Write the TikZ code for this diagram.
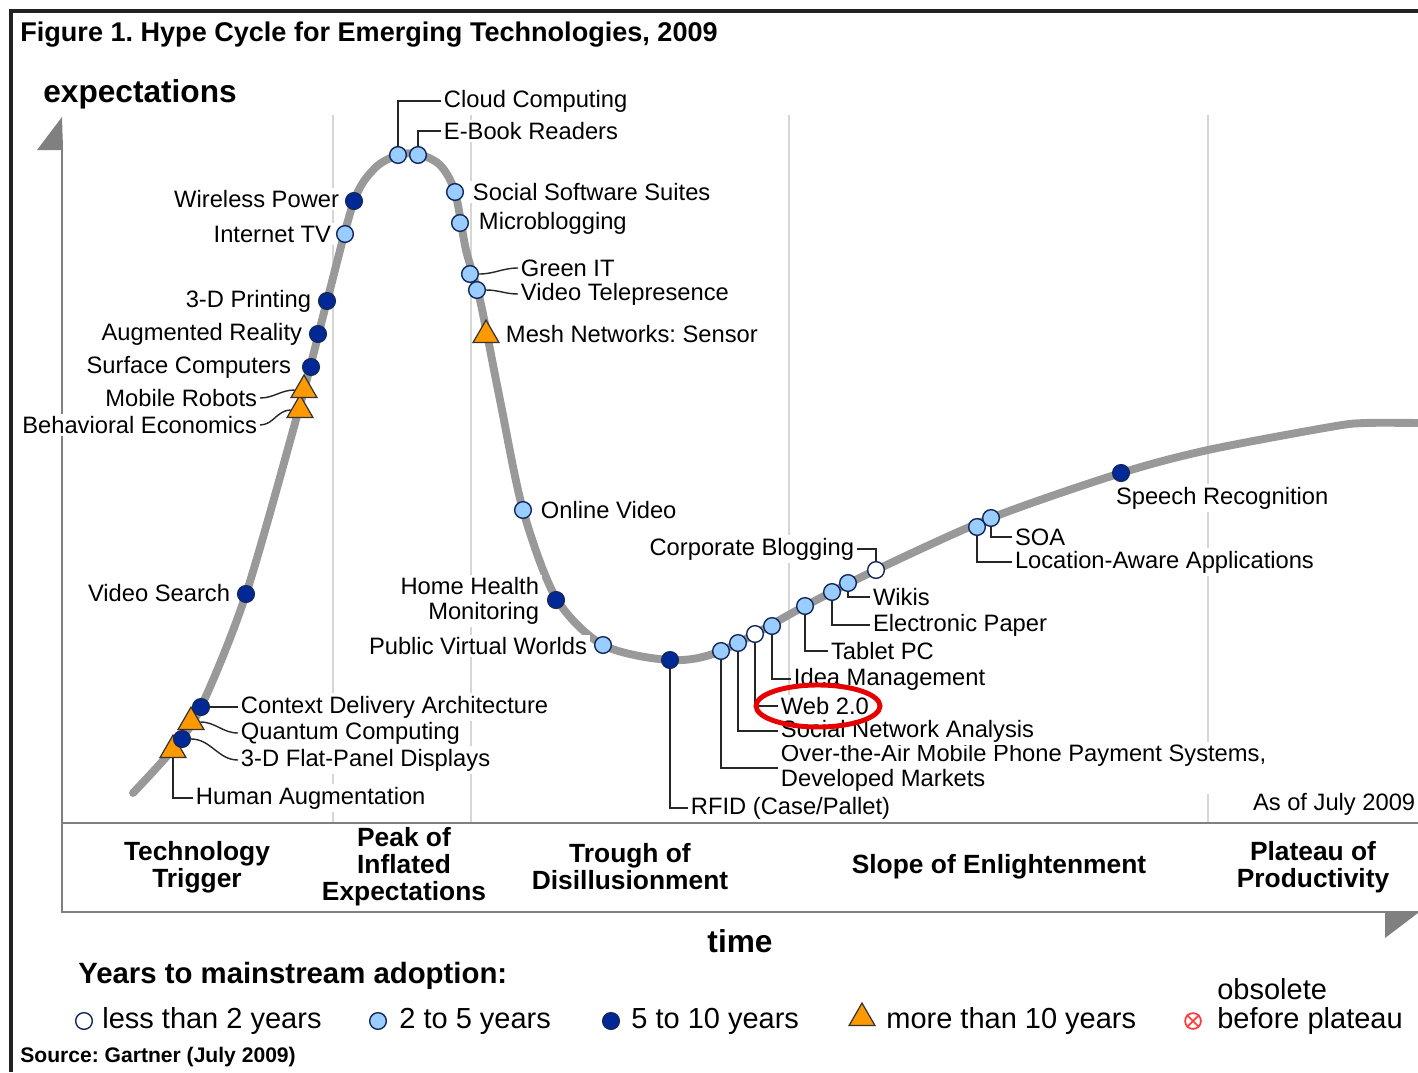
\documentclass[tikz,border=0pt]{standalone}
\usepackage{fontspec}
\setmainfont{Liberation Sans}
\usepackage{tikz}
\usetikzlibrary{shapes.geometric}
\frenchspacing
\definecolor{curvegray}{RGB}{153,153,153}
\definecolor{gridgray}{RGB}{214,214,214}
\definecolor{axisgray}{RGB}{128,128,128}
\definecolor{lightblue}{RGB}{153,204,255}
\definecolor{darkblue}{RGB}{0,40,150}
\definecolor{markline}{RGB}{20,40,90}
\definecolor{hypeorange}{RGB}{255,153,0}
\definecolor{ringred}{RGB}{230,0,0}
\definecolor{obsred}{RGB}{255,60,60}
\definecolor{framegray}{RGB}{34,34,34}
\tikzstyle{soon} = [circle, draw=markline, fill=white, line width=0.8pt,%
    minimum size=9.5pt, inner sep=0pt]
\tikzstyle{twofive} = [soon, fill=lightblue]
\tikzstyle{fiveten} = [soon, fill=darkblue]
\tikzstyle{overten} = [regular polygon, regular polygon sides=3, draw=black!80,
    fill=hypeorange, line width=0.7pt, minimum size=17pt, inner sep=0pt]
\tikzstyle{lbl} = [font=\fontsize{13.5}{14}\selectfont, inner sep=1.5pt, fill=white]
\tikzstyle{phase} = [font=\bfseries\fontsize{15}{15.3}\selectfont, align=center]
\tikzstyle{legendtxt} = [font=\fontsize{16.5}{16.5}\selectfont, anchor=west, inner sep=0pt]
\tikzstyle{leader} = [draw=black!85, line width=0.8pt]

\begin{document}
\begin{tikzpicture}[x=0.2mm, y=-0.2mm]
    \useasboundingbox (0,0) rectangle (1418,1072);
    % frame, title, axes
    \draw [framegray, line width=2.8pt] (11,1072) -- (11,11) -- (1418,11);
    \node (title) [anchor=west, inner sep=0pt, font=\bfseries\fontsize{15.4}{16}\selectfont]
        at (20,35) {Figure 1. Hype Cycle for Emerging Technologies, 2009};
    \node (ylab) [anchor=west, inner sep=0pt, font=\bfseries\fontsize{18}{18}\selectfont]
        at (43,94) {expectations};
    \foreach \gx in {333,471,789,1208}
        \draw [gridgray, line width=1.6pt] (\gx,115) -- (\gx,823);
    \draw [axisgray, line width=1.2pt] (62,140) -- (62,912) -- (1418,912);
    \draw [axisgray, line width=1.2pt] (62,823) -- (1418,823);
    \fill [axisgray] (37,150) -- (62,117) -- (63,150) -- cycle;
    \fill [axisgray] (1385,913) -- (1418,913) -- (1385,938) -- cycle;

    % the hype curve
    \draw [curvegray, line width=4.5pt, line cap=round] plot [smooth, tension=0.5] coordinates {
        (133,793) (173,749) (201,707) (246,594) (300,405) (327,301) (354,201)
        (375,168) (398,155) (418,154) (440,165) (455,192) (466,250) (480,300)
        (500,400) (523,510) (556,598) (603,645) (670,660) (721,651) (805,606)
        (876,570) (991,518) (1121,473) (1208,450) (1330,427) (1365,423) (1418,423)};

    % technologies
    \node (humaug) [overten] at (173,750) {};
    \node (flatpanel) [fiveten] at (182,739) {};
    \node (quantum) [overten] at (191,722) {};
    \node (context) [fiveten] at (201,707) {};
    \node (vidsearch) [fiveten] at (246,594) {};
    \node (behav) [overten] at (300,410) {};
    \node (robots) [overten] at (304,390) {};
    \node (surface) [fiveten] at (311,367) {};
    \node (augreal) [fiveten] at (318,334) {};
    \node (print3d) [fiveten] at (327,301) {};
    \node (inettv) [twofive] at (345,234) {};
    \node (wireless) [fiveten] at (354,201) {};
    \node (cloud) [twofive] at (398,155) {};
    \node (ebook) [twofive] at (418,155) {};
    \node (social) [twofive] at (455,192) {};
    \node (micro) [twofive] at (460,223) {};
    \node (greenit) [twofive] at (470,274) {};
    \node (telepres) [twofive] at (477,290) {};
    \node (mesh) [overten] at (486,335) {};
    \node (onlinevid) [twofive] at (523,510) {};
    \node (homehealth) [fiveten] at (556,600) {};
    \node (pubworlds) [twofive] at (603,645) {};
    \node (rfid) [fiveten] at (670,660) {};
    \node (ota) [twofive] at (721,651) {};
    \node (sna) [twofive] at (738,643) {};
    \node (web) [soon] at (755,634) {};
    \node (idea) [twofive] at (772,626) {};
    \node (tablet) [twofive] at (805,606) {};
    \node (epaper) [twofive] at (832,592) {};
    \node (wikis) [twofive] at (848,583) {};
    \node (blogging) [soon] at (876,570) {};
    \node (locaware) [twofive] at (977,527) {};
    \node (soa) [twofive] at (991,518) {};
    \node (speech) [fiveten] at (1121,473) {};

    % labels
    \node (cloudlbl) [lbl, anchor=west] at (441,101) {Cloud Computing};
    \node (ebooklbl) [lbl, anchor=west] at (441,131) {E-Book Readers};
    \node (sociallbl) [lbl, anchor=west] at (470,192) {Social Software Suites};
    \node (microlbl) [lbl, anchor=west] at (476,223) {Microblogging};
    \node (greenitlbl) [lbl, anchor=west] at (518,268) {Green IT};
    \node (telepreslbl) [lbl, anchor=west] at (518,294) {Video Telepresence};
    \node (meshlbl) [lbl, anchor=west] at (503,334) {Mesh Networks: Sensor};
    \node (wirelesslbl) [lbl, anchor=east] at (342,199) {Wireless Power};
    \node (inettvlbl) [lbl, anchor=east] at (334,234) {Internet TV};
    \node (print3dlbl) [lbl, anchor=east] at (314,301) {3-D Printing};
    \node (augreallbl) [lbl, anchor=east] at (305,334) {Augmented Reality};
    \node (surfacelbl) [lbl, anchor=east] at (294,367) {Surface Computers};
    \node (robotslbl) [lbl, anchor=east] at (260,398) {Mobile Robots};
    \node (behavlbl) [lbl, anchor=east] at (260,425) {Behavioral Economics};
    \node (vidsearchlbl) [lbl, anchor=east] at (233,593) {Video Search};
    \node (contextlbl) [lbl, anchor=west] at (238,707) {Context Delivery Architecture};
    \node (quantumlbl) [lbl, anchor=west] at (238,733) {Quantum Computing};
    \node (flatpanellbl) [lbl, anchor=west] at (238,760) {3-D Flat-Panel Displays};
    \node (humauglbl) [lbl, anchor=west] at (193,798) {Human Augmentation};
    \node (onlinevidlbl) [lbl, anchor=west] at (538,510) {Online Video};
    \node (homehealthlbl) [lbl, anchor=east, align=right] at (542,601) {Home Health\\Monitoring};
    \node (pubworldslbl) [lbl, anchor=east] at (590,646) {Public Virtual Worlds};
    \node (rfidlbl) [lbl, anchor=west] at (688,808) {RFID (Case/Pallet)};
    \node (otalbl) [lbl, anchor=west, align=left] at (778,768)
        {Over-the-Air Mobile Phone Payment Systems,\\Developed Markets};
    \node (snalbl) [lbl, anchor=west] at (778,731) {Social Network Analysis};
    \node (weblbl) [lbl, anchor=west] at (778,706) {Web 2.0};
    \node (idealbl) [lbl, anchor=west] at (791,679) {Idea Management};
    \node (tabletlbl) [lbl, anchor=west] at (828,651) {Tablet PC};
    \node (epaperlbl) [lbl, anchor=west] at (870,625) {Electronic Paper};
    \node (wikislbl) [lbl, anchor=west] at (870,597) {Wikis};
    \node (blogginglbl) [lbl, anchor=east] at (857,549) {Corporate Blogging};
    \node (locawarelbl) [lbl, anchor=west] at (1012,562) {Location-Aware Applications};
    \node (soalbl) [lbl, anchor=west] at (1012,537) {SOA};
    \node (speechlbl) [lbl, anchor=west] at (1113,498) {Speech Recognition};
    \node (asof) [lbl, anchor=west] at (1250,804) {As of July 2009};

    % leaders
    \draw [leader] (cloud.north) |- (cloudlbl.west);
    \draw [leader] (ebook.north) |- (ebooklbl.west);
    \draw [leader] (greenit.east) to[out=0,in=180] (greenitlbl.west);
    \draw [leader] (telepres.east) to[out=0,in=180] (telepreslbl.west);
    \draw [leader] (robotslbl.east) to[out=0,in=180] (robots.west);
    \draw [leader] (behavlbl.east) to[out=0,in=180] (behav.west);
    \draw [leader] (context.east) -- (contextlbl.west);
    \draw [leader] (quantum.east) to[out=0,in=180] (quantumlbl.west);
    \draw [leader] (flatpanel.east) to[out=0,in=180] (flatpanellbl.west);
    \draw [leader] (humaug.south) |- (humauglbl.west);
    \draw [leader] (rfid.south) |- (rfidlbl.west);
    \draw [leader] (ota.south) |- (otalbl.west);
    \draw [leader] (sna.south) |- (snalbl.west);
    \draw [leader] (web.south) |- (weblbl.west);
    \draw [leader] (idea.south) |- (idealbl.west);
    \draw [leader] (tablet.south) |- (tabletlbl.west);
    \draw [leader] (epaper.south) |- (epaperlbl.west);
    \draw [leader] (wikis.south) |- (wikislbl.west);
    \draw [leader] (blogginglbl.east) -| (blogging.north);
    \draw [leader] (locaware.south) |- (locawarelbl.west);
    \draw [leader] (soa.south) |- (soalbl.west);
    \draw [ringred, line width=2.8pt] (818,706) ellipse [x radius=62, y radius=21];

    % phases
    \node (trigger) [phase] at (197,867) {Technology\\Trigger};
    \node (peak) [phase] at (404,867) {Peak of\\Inflated\\Expectations};
    \node (trough) [phase] at (630,867) {Trough of\\Disillusionment};
    \node (slope) [phase] at (999,867) {Slope of Enlightenment};
    \node (plateau) [phase] at (1313,867) {Plateau of\\Productivity};
    \node (xlab) [font=\bfseries\fontsize{18}{18}\selectfont] at (740,941) {time};

    % legend
    \node (years) [anchor=west, inner sep=0pt, font=\bfseries\fontsize{16.7}{17}\selectfont]
        at (78,976) {Years to mainstream adoption:};
    \node (keysoon) [soon] at (84,1021) {};
    \node (keysoontxt) [legendtxt] at (102,1021) {less than 2 years};
    \node (keytwofive) [twofive] at (378,1021) {};
    \node (keytwofivetxt) [legendtxt] at (399,1021) {2 to 5 years};
    \node (keyfiveten) [fiveten] at (611,1021) {};
    \node (keyfiventxt) [legendtxt] at (631,1021) {5 to 10 years};
    \node (keyoverten) [overten] at (862,1018) {};
    \node (keyovertentxt) [legendtxt] at (886,1021) {more than 10 years};
    \node (keyobs) [circle, draw=obsred, line width=1pt, minimum size=9pt, inner sep=0pt] at (1193,1021) {};
    \draw [obsred, line width=1pt] (keyobs.north west) -- (keyobs.south east);
    \draw [obsred, line width=1pt] (keyobs.north east) -- (keyobs.south west);
    \node (keyobstxt) [legendtxt, align=left] at (1217,1006) {obsolete\\before plateau};
    \node (source) [anchor=west, inner sep=0pt, font=\bfseries\fontsize{12}{12}\selectfont]
        at (20,1057) {Source: Gartner (July 2009)};
\end{tikzpicture}
\end{document}
